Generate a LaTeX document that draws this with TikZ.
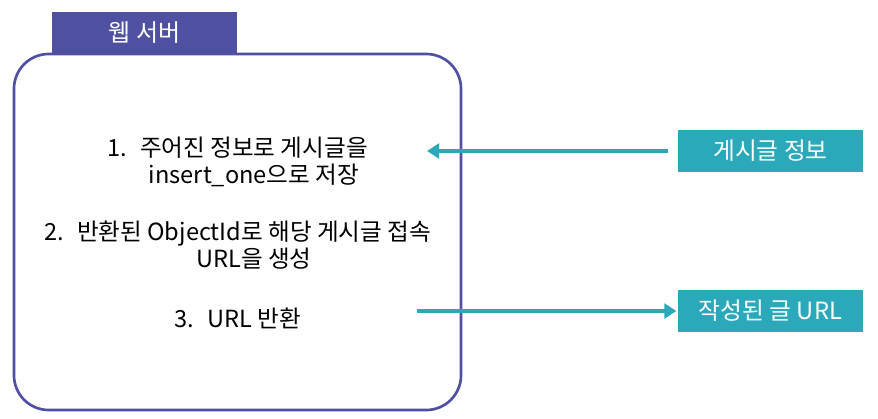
\documentclass[tikz,border=0pt]{standalone}
\usepackage{fontspec}
\setmainfont{Noto Sans CJK KR}
\usetikzlibrary{arrows.meta}
\definecolor{serverblue}{HTML}{4F50A1}
\definecolor{msgteal}{HTML}{2BA9BA}
\tikzset{
 tabbox/.style={fill=serverblue,text=white,minimum width=138.75pt,minimum height=30.75pt,inner sep=0pt,font=\fontsize{18}{20}\selectfont},
 msgbox/.style={fill=msgteal,text=white,minimum width=138.75pt,minimum height=31.5pt,inner sep=0pt,font=\fontsize{17.8}{20}\selectfont},
 step text/.style={align=center,font=\fontsize{17.7}{20.25}\selectfont},
 flow/.style={msgteal,line width=3pt,-{Triangle[length=9pt,width=11pt]}}
}
\newcommand{\stepno}[1]{\llap{#1\hspace{10pt}}}
\begin{document}
\begin{tikzpicture}[x=0.75pt,y=-0.75pt]
 \useasboundingbox (0,0) rectangle (878,418);
 \draw[serverblue,line width=2pt,rounded corners=26pt](14,54) rectangle (461,410);
 \node[tabbox] (server) at (144.5,32.5) {웹 서버};
 \node[step text] (save) at (254,161.5) {\stepno{1.}주어진 정보로 게시글을\\insert\_one으로 저장};
 \node[step text] (make) at (254,245) {\stepno{2.}반환된 ObjectId로 해당 게시글 접속\\URL을 생성};
 \node[step text] (give) at (254,318) {\stepno{3.}URL 반환};
 \node[msgbox] (info) at (770.5,151) {게시글 정보};
 \node[msgbox] (url) at (770.5,311) {작성된 글 URL};
 \coordinate (in) at (427,151);
 \coordinate (out) at (417,311);
 \draw[flow]([xshift=-7pt]info.west)--(in);
 \draw[flow](out)--([xshift=-1pt]url.west);
\end{tikzpicture}
\end{document}
